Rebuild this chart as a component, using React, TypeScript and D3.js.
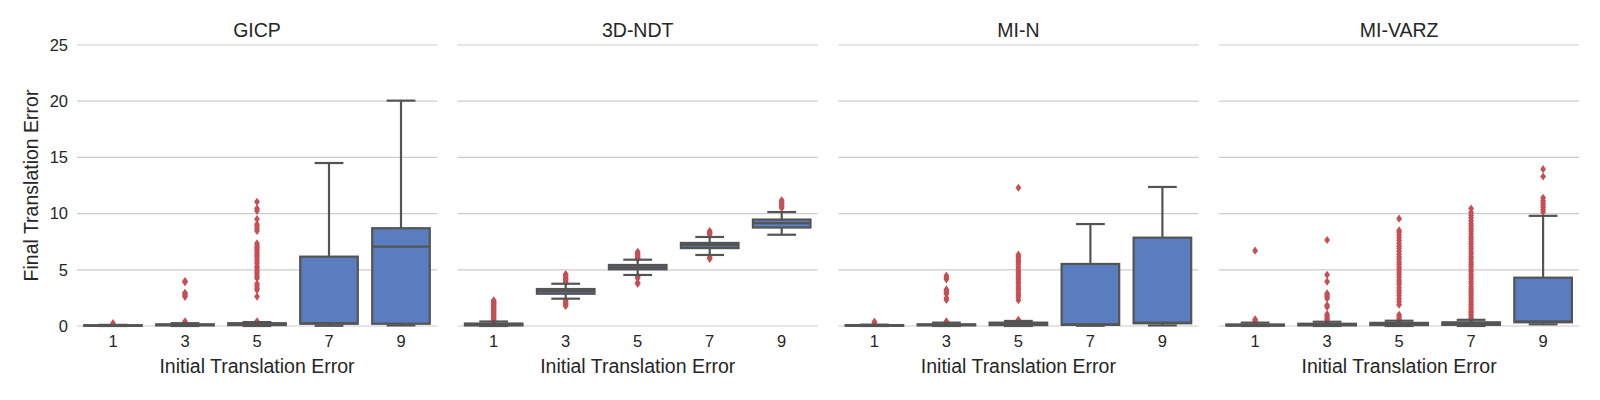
import React from 'react';
import * as d3 from 'd3';

// Initial translation error categories (x axis of every panel)
const initialErrors = ['1', '3', '5', '7', '9'];
const methods = ['GICP', '3D-NDT', 'MI-N', 'MI-VARZ'];
const yTicks = [0, 5, 10, 15, 20, 25];

// box stats per category: [whiskerLow, q1, median, q3, whiskerHigh]
type Box = [number, number, number, number, number];

const gicpBoxes: Box[] = [
  [0, 0.02, 0.04, 0.07, 0.1],
  [0, 0.05, 0.1, 0.15, 0.25],
  [0, 0.08, 0.15, 0.25, 0.35],
  [0.02, 0.2, 0.25, 6.17, 14.5],
  [0.05, 0.2, 7.06, 8.7, 20.05],
];
const ndtBoxes: Box[] = [
  [0, 0.05, 0.12, 0.22, 0.4],
  [2.43, 2.87, 3.1, 3.29, 3.76],
  [4.54, 5.04, 5.22, 5.43, 5.9],
  [6.32, 6.93, 7.2, 7.39, 7.92],
  [8.12, 8.76, 9.16, 9.47, 10.14],
];
const minBoxes: Box[] = [
  [0, 0.02, 0.04, 0.08, 0.12],
  [0, 0.05, 0.1, 0.15, 0.3],
  [0, 0.08, 0.15, 0.3, 0.45],
  [0.02, 0.1, 0.14, 5.52, 9.07],
  [0.05, 0.24, 0.3, 7.86, 12.37],
];
const varzBoxes: Box[] = [
  [0, 0.03, 0.06, 0.14, 0.3],
  [0, 0.05, 0.1, 0.2, 0.38],
  [0, 0.08, 0.15, 0.28, 0.47],
  [0, 0.1, 0.2, 0.33, 0.55],
  [0.15, 0.33, 0.42, 4.3, 9.8],
];

// outliers per category
const gicpOutliers: number[][] = [
  [0.25],
  [0.3, 0.42, 2.6, 2.72, 2.85, 2.95, 3.9, 4.0],
  [0.42, 2.62, 3.2, 3.35, 3.55, 3.75, 4.25, 4.4, 4.6, 4.8, 4.95, 5.15, 5.3, 5.55, 5.75, 5.95, 6.15, 6.3, 6.5, 6.7, 6.85, 7.0, 7.15, 7.35, 8.45, 8.65, 8.9, 9.05, 9.5, 10.25, 10.45, 11.05],
  [],
  [],
];
const ndtOutliers: number[][] = [
  [0.42, 0.5, 0.6, 0.68, 0.8, 0.9, 0.98, 1.1, 1.22, 1.3, 1.42, 1.5, 1.6, 1.7, 1.82, 1.9, 2.0, 2.1, 2.18, 2.28],
  [1.78, 1.9, 2.0, 2.12, 2.25, 3.88, 3.98, 4.12, 4.22, 4.38, 4.5, 4.62],
  [3.75, 3.85, 4.25, 4.4, 5.98, 6.1, 6.22, 6.35, 6.48, 6.6],
  [5.98, 6.1, 8.15, 8.25, 8.32, 8.45],
  [10.5, 10.62, 10.75, 10.9, 11.02, 11.18],
];
const minOutliers: number[][] = [
  [0.3, 0.38],
  [0.32, 0.42, 2.32, 2.5, 2.85, 3.0, 3.12, 3.25, 4.15, 4.32, 4.48],
  [0.55, 2.3, 2.55, 2.75, 2.95, 3.2, 3.35, 3.55, 3.8, 3.95, 4.15, 4.3, 4.5, 4.7, 4.85, 5.05, 5.25, 5.5, 5.7, 5.85, 6.05, 6.2, 6.35, 12.3],
  [],
  [],
];
const varzOutliers: number[][] = [
  [0.35, 0.48, 0.6, 6.7],
  [0.4, 0.55, 0.72, 0.9, 1.05, 1.7, 1.85, 2.45, 2.6, 2.75, 2.9, 3.95, 4.55, 7.65],
  [0.5, 0.65, 0.85, 1.0, 1.9, 2.15, 2.4, 2.7, 2.95, 3.15, 3.4, 3.7, 3.9, 4.1, 4.35, 4.6, 4.8, 5.05, 5.25, 5.5, 5.7, 5.95, 6.15, 6.4, 6.65, 6.9, 7.1, 7.35, 7.6, 7.85, 8.1, 8.35, 8.5, 9.55],
  [0.6, 0.75, 0.95, 1.15, 1.3, 1.5, 1.7, 1.9, 2.1, 2.3, 2.5, 2.7, 2.9, 3.1, 3.3, 3.5, 3.75, 3.95, 4.2, 4.4, 4.6, 4.85, 5.05, 5.3, 5.5, 5.7, 5.95, 6.15, 6.4, 6.6, 6.85, 7.05, 7.3, 7.5, 7.75, 7.95, 8.2, 8.45, 8.65, 8.9, 9.1, 9.35, 9.6, 9.85, 10.1, 10.45],
  [10.15, 10.35, 10.55, 10.75, 10.95, 11.15, 11.4, 13.3, 13.95],
];

const allBoxes = [gicpBoxes, ndtBoxes, minBoxes, varzBoxes];
const allOutliers = [gicpOutliers, ndtOutliers, minOutliers, varzOutliers];

const W = 1600;
const H = 400;
const panelX0 = 77;
const panelStep = 380.7;
const panelW = 360;
const boxFill = '#5a7dc0';
const edge = '#545454';
const flierColor = '#c74f54';
const textColor = '#262626';
const font = '"Liberation Sans", Arial, sans-serif';

const y = d3.scaleLinear().domain([0, 25]).range([326, 45]);
const x = d3.scaleBand<string>().domain(initialErrors).range([0, panelW]);

// thin diamond marker (matplotlib 'd')
const diamond = 'M0,-4.1L2.9,0L0,4.1L-2.9,0Z';

function Panel({ idx }: { idx: number }) {
  const boxes = allBoxes[idx];
  const outliers = allOutliers[idx];
  const bw = x.bandwidth() * 0.8;
  return (
    <g transform={`translate(${panelX0 + idx * panelStep},0)`}>
      {yTicks.map((t) => (
        <line key={t} x1={0} x2={panelW} y1={y(t)} y2={y(t)} stroke="#cccccc" strokeWidth={1.2} />
      ))}
      <text x={panelW / 2} y={37} textAnchor="middle" fontSize={19.5} fill={textColor}>
        {methods[idx]}
      </text>
      {initialErrors.map((c, i) => {
        const cx = (x(c) as number) + x.bandwidth() / 2;
        const [lo, q1, med, q3, hi] = boxes[i];
        return (
          <g key={c}>
            {outliers[i].map((v, j) => (
              <path key={j} d={diamond} transform={`translate(${cx},${y(v)})`} fill={flierColor} />
            ))}
            <line x1={cx} x2={cx} y1={y(q3)} y2={y(hi)} stroke={edge} strokeWidth={2.2} />
            <line x1={cx} x2={cx} y1={y(q1)} y2={y(lo)} stroke={edge} strokeWidth={2.2} />
            <line x1={cx - bw / 4} x2={cx + bw / 4} y1={y(hi)} y2={y(hi)} stroke={edge} strokeWidth={2.2} />
            <line x1={cx - bw / 4} x2={cx + bw / 4} y1={y(lo)} y2={y(lo)} stroke={edge} strokeWidth={2.2} />
            <rect
              x={cx - bw / 2}
              width={bw}
              y={y(q3)}
              height={Math.max(0, y(q1) - y(q3))}
              fill={boxFill}
              stroke={edge}
              strokeWidth={2.2}
            />
            <line x1={cx - bw / 2} x2={cx + bw / 2} y1={y(med)} y2={y(med)} stroke={edge} strokeWidth={2.2} />
            <text x={cx} y={347} textAnchor="middle" fontSize={16.5} fill={textColor}>
              {c}
            </text>
          </g>
        );
      })}
      <text x={panelW / 2} y={373} textAnchor="middle" fontSize={19.5} fill={textColor}>
        Initial Translation Error
      </text>
      {idx === 0 &&
        yTicks.map((t) => (
          <text key={t} x={-9} y={y(t)} dy="0.35em" textAnchor="end" fontSize={16.5} fill={textColor}>
            {t}
          </text>
        ))}
      {idx === 0 && (
        <text
          transform={`translate(${31 - panelX0},${(y(0) + y(25)) / 2}) rotate(-90)`}
          textAnchor="middle"
          dy="0.35em"
          fontSize={19.5}
          fill={textColor}
        >
          Final Translation Error
        </text>
      )}
    </g>
  );
}

export default function App() {
  return (
    <svg
      width={W}
      height={H}
      style={{ position: 'absolute', left: 0, top: 0, background: '#fff', fontFamily: font }}
    >
      {methods.map((m, i) => (
        <Panel key={m} idx={i} />
      ))}
    </svg>
  );
}
